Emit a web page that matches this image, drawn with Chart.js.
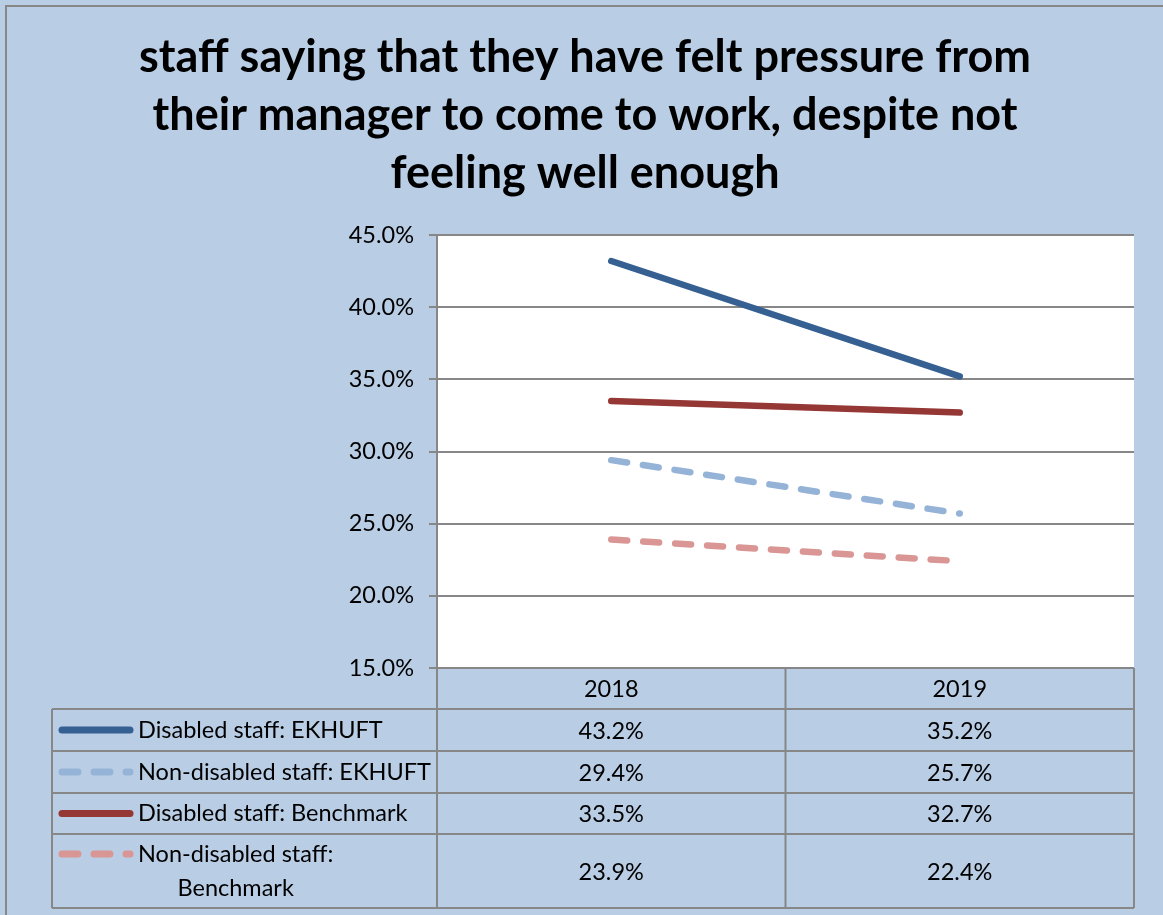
<!DOCTYPE html>
<html>
<head>
<meta charset="utf-8">
<title>Felt pressure from manager to come to work</title>
<script src="https://cdn.jsdelivr.net/npm/chart.js@4.4.1/dist/chart.umd.min.js"></script>
<style>
  html, body { margin: 0; padding: 0; background: #B9CDE5; }
  #wrap { width: 1163px; height: 915px; position: relative; }
</style>
</head>
<body>
<div id="wrap"><canvas id="pressureChart"></canvas></div>
<script>
const years = ['2018', '2019'];
const titleLines = [
  'staff saying that they have felt pressure from',
  'their manager to come to work, despite not',
  'feeling well enough'
];
const disabledEkhuft = [43.2, 35.2];
const nonDisabledEkhuft = [29.4, 25.7];
const disabledBenchmark = [33.5, 32.7];
const nonDisabledBenchmark = [23.9, 22.4];
const yTicks = [15, 20, 25, 30, 35, 40, 45];

const FONT = 'Lato';
const GRID = '#878787';
Chart.defaults.font.family = FONT;

// light blue panel, left/top frame, white plot area
const backgroundPlugin = {
  id: 'panel',
  beforeDraw(chart) {
    const { ctx, width, height, chartArea } = chart;
    ctx.save();
    ctx.fillStyle = '#B9CDE5';
    ctx.fillRect(0, 0, width, height);
    ctx.strokeStyle = GRID;
    ctx.lineWidth = 2;
    ctx.strokeRect(6, 6, width + 10, height + 10);
    ctx.fillStyle = '#ffffff';
    ctx.fillRect(chartArea.left, chartArea.top, chartArea.right - chartArea.left, chartArea.bottom - chartArea.top);
    ctx.restore();
  }
};

// Excel style data table under the plot, with legend keys
const tablePlugin = {
  id: 'dataTable',
  afterDraw(chart) {
    const { ctx, chartArea, scales: { x } } = chart;
    const half = (x.getPixelForValue(1) - x.getPixelForValue(0)) / 2;
    const colEdges = [chartArea.left].concat(years.map((_, i) => x.getPixelForValue(i) + half));
    const b = chartArea.bottom;
    const rows = [b, b + 41, b + 83, b + 125, b + 166, b + 240];
    const tableLeft = 52;
    const right = colEdges[colEdges.length - 1];

    ctx.save();
    ctx.strokeStyle = GRID;
    ctx.lineWidth = 2;
    ctx.beginPath();
    ctx.moveTo(chartArea.left, rows[0]);
    ctx.lineTo(right, rows[0]);
    for (let r = 1; r < rows.length; r++) {
      ctx.moveTo(tableLeft, rows[r]);
      ctx.lineTo(right, rows[r]);
    }
    ctx.moveTo(tableLeft, rows[1]);
    ctx.lineTo(tableLeft, rows[rows.length - 1]);
    colEdges.forEach(cx => {
      ctx.moveTo(cx, rows[0]);
      ctx.lineTo(cx, rows[rows.length - 1]);
    });
    ctx.stroke();

    ctx.fillStyle = '#000';
    ctx.font = '23.5px ' + FONT;
    ctx.textBaseline = 'middle';
    ctx.textAlign = 'center';
    years.forEach((yr, i) => ctx.fillText(yr, x.getPixelForValue(i), (rows[0] + rows[1]) / 2 + 1));

    chart.data.datasets.forEach((ds, d) => {
      const top = rows[d + 1], bottom = rows[d + 2];
      const mid = (top + bottom) / 2;
      // wrap the label if it does not fit the first column
      const maxW = chart.chartArea.left - 136;
      let lines = [ds.label];
      if (ctx.measureText(ds.label).width > maxW) {
        const cut = ds.label.lastIndexOf(' ');
        lines = [ds.label.slice(0, cut), ds.label.slice(cut + 1)];
      }
      const lh = 34;
      const firstY = mid - (lines.length - 1) * lh / 2;
      const blockW = Math.max(...lines.map(l => ctx.measureText(l).width));

      ctx.save();
      ctx.strokeStyle = ds.borderColor;
      ctx.lineWidth = 7;
      ctx.lineCap = 'round';
      ctx.setLineDash(ds.borderDash || []);
      ctx.beginPath();
      ctx.moveTo(62, firstY);
      ctx.lineTo(130, firstY);
      ctx.stroke();
      ctx.restore();

      ctx.textAlign = 'left';
      lines.forEach((l, k) => {
        const w = ctx.measureText(l).width;
        ctx.fillText(l, 138 + (blockW - w) / 2, firstY + k * lh);
      });
      ctx.textAlign = 'center';
      ds.data.forEach((v, i) => ctx.fillText(v.toFixed(1) + '%', x.getPixelForValue(i), mid + 1));
    });
    ctx.restore();
  }
};

const ctx = document.getElementById('pressureChart').getContext('2d');

new Chart(ctx, {
  type: 'line',
  data: {
    labels: years,
    datasets: [
      {
        label: 'Disabled staff: EKHUFT',
        data: disabledEkhuft,
        borderColor: '#376092'
      },
      {
        label: 'Non-disabled staff: EKHUFT',
        data: nonDisabledEkhuft,
        borderColor: '#95B3D7',
        borderDash: [16, 16]
      },
      {
        label: 'Disabled staff: Benchmark',
        data: disabledBenchmark,
        borderColor: '#953735'
      },
      {
        label: 'Non-disabled staff: Benchmark',
        data: nonDisabledBenchmark,
        borderColor: '#D99694',
        borderDash: [16, 16]
      }
    ]
  },
  options: {
    responsive: true,
    maintainAspectRatio: false,
    animation: false,
    elements: {
      line: { borderWidth: 6.5, borderCapStyle: 'round', tension: 0 },
      point: { radius: 0, hoverRadius: 0 }
    },
    layout: {
      padding: { left: 36, right: 29, top: 10, bottom: 247 }
    },
    plugins: {
      legend: { display: false },
      tooltip: { enabled: false },
      title: {
        display: true,
        text: titleLines,
        color: '#000',
        font: { family: FONT, size: 45, weight: 'bold', lineHeight: '58px' },
        padding: { top: 18, bottom: 33 }
      }
    },
    scales: {
      x: { display: false, offset: true },
      y: {
        min: 15,
        max: 45,
        afterFit(scale) { scale.width = 401; },
        afterBuildTicks(scale) { scale.ticks = yTicks.map(v => ({ value: v })); },
        ticks: {
          callback: v => v.toFixed(1) + '%',
          color: '#000',
          font: { family: FONT, size: 23.5 },
          padding: 15
        },
        grid: { color: GRID, lineWidth: 2, tickLength: 8 },
        border: { color: GRID, width: 2 }
      }
    }
  },
  plugins: [backgroundPlugin, tablePlugin]
});
</script>
</body>
</html>
